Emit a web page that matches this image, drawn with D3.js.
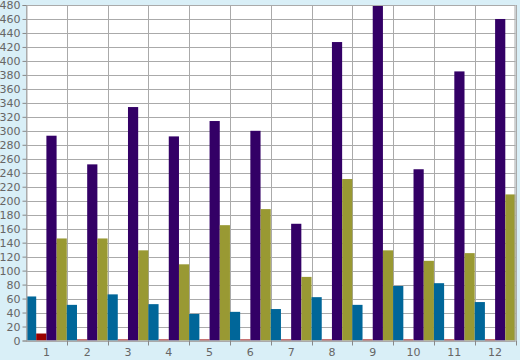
<!DOCTYPE html>
<html><head><meta charset="utf-8">
<script src="https://cdn.jsdelivr.net/npm/d3@7"></script>
<style>html,body{margin:0;padding:0;background:#d9eff7;}svg{display:block;}</style>
</head><body>
<svg id="c" width="520" height="360"></svg>
<script>
const categories = ["1","2","3","4","5","6","7","8","9","10","11","12"];
const seriesBlue   = [63, 51, 66, 52, 38, 41, 45, 62, 51, 78, 82, 55];
const seriesRed    = [10, 1.5, 1.5, 1.5, 1.5, 1.5, 1.5, 1.5, 1.5, 1.5, 1.5, 1.5];
const seriesPurple = [293, 252, 334, 292, 314, 300, 167, 427, 480, 245, 385, 460];
const seriesOlive  = [146, 146, 129, 109, 165, 188, 91, 231, 129, 114, 125, 209];
const yTicks = d3.range(0, 481, 20);
const seriesNames = ["blue","red","purple","olive"];
const colors = ["#006699","#990000","#330066","#999933"];
const allSeries = [seriesBlue, seriesRed, seriesPurple, seriesOlive];

const svg = d3.select("#c");
const L = 26, R = 515.5, T = 5, B = 340.5;
const x0 = d3.scaleBand().domain(categories).range([L, R]).padding(0);
const x1 = d3.scaleBand().domain(seriesNames).range([0, x0.bandwidth()]).padding(0);
const y = d3.scaleLinear().domain([0, 480]).range([B, T]);

svg.append("rect").attr("x", L).attr("y", T).attr("width", R - L).attr("height", B - T).attr("fill", "#fff");

// horizontal grid
svg.append("g").selectAll("line").data(yTicks).join("line")
  .attr("x1", L).attr("x2", R).attr("y1", d => Math.round(y(d)) + 0.5).attr("y2", d => Math.round(y(d)) + 0.5)
  .attr("stroke", "#aaaaaa").attr("stroke-width", 1);
// vertical grid
svg.append("g").selectAll("line").data(categories).join("line")
  .attr("x1", d => Math.round(x0(d) + x0.bandwidth()) + 0.5).attr("x2", d => Math.round(x0(d) + x0.bandwidth()) + 0.5)
  .attr("y1", T).attr("y2", B)
  .attr("stroke", "#aaaaaa").attr("stroke-width", 1);

// bars
const g = svg.append("g");
categories.forEach((c, i) => {
  allSeries.forEach((s, j) => {
    g.append("rect")
      .attr("x", x0(c) + x1(seriesNames[j]))
      .attr("width", x1.bandwidth())
      .attr("y", y(s[i]))
      .attr("height", B - y(s[i]))
      .attr("fill", colors[j]);
  });
});

// border
svg.append("rect").attr("x", L + 0.5).attr("y", T + 0.5).attr("width", R - L - 1).attr("height", B - T)
  .attr("fill", "none").attr("stroke", "#aaaaaa");

// y axis
const yAxis = d3.axisLeft(y).tickValues(yTicks).tickSize(4).tickPadding(2);
const ya = svg.append("g").attr("transform", `translate(${L + 0.5},0)`).call(yAxis);
ya.select(".domain").attr("stroke", "#aaaaaa");
ya.selectAll(".tick line").attr("stroke", "#888");
ya.selectAll(".tick text").attr("fill", "#666").style("font", "11px 'DejaVu Sans'");

// x axis
const xAxis = d3.axisBottom(x0).tickSize(0).tickPadding(8);
const xa = svg.append("g").attr("transform", `translate(0,${B})`).call(xAxis);
xa.select(".domain").remove();
xa.selectAll(".tick text").attr("fill", "#666").style("font", "11px 'DejaVu Sans'");
// x boundary ticks
svg.append("g").selectAll("line").data(categories).join("line")
  .attr("x1", d => Math.round(x0(d) + x0.bandwidth()) + 0.5).attr("x2", d => Math.round(x0(d) + x0.bandwidth()) + 0.5)
  .attr("y1", B).attr("y2", B + 5).attr("stroke", "#888");
</script>
</body></html>
